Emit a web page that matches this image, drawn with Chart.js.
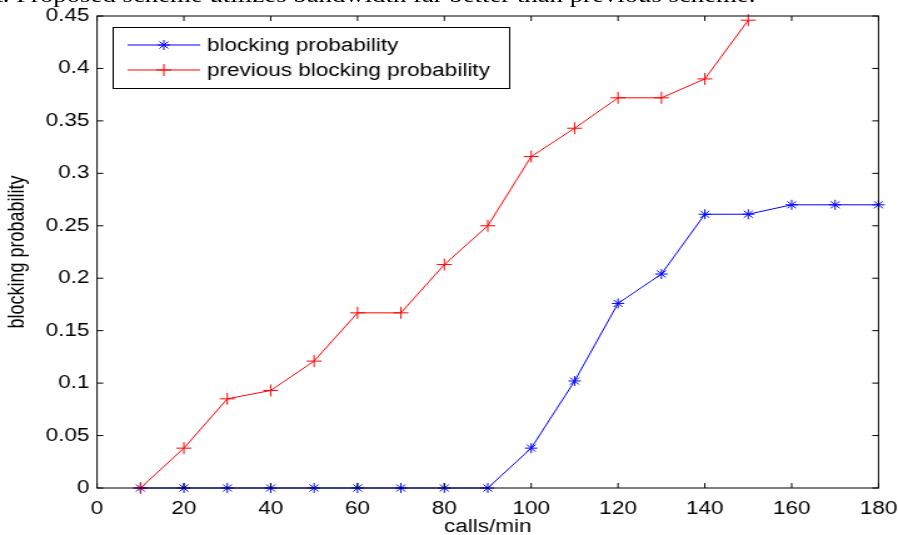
<!DOCTYPE html>
<html>
<head>
<meta charset="utf-8">
<script src="https://cdn.jsdelivr.net/npm/chart.js@4/dist/chart.umd.min.js"></script>
<style>
  html, body { margin: 0; padding: 0; background: #fff; overflow: hidden; }
  /* the source picture is stretched sideways, so the whole figure is drawn narrow and scaled */
  #wrap { position: relative; width: 718px; height: 535px; transform: scaleX(1.2507); transform-origin: 0 0; overflow: hidden; }
  #caption { position: absolute; right: 114px; top: -15px; white-space: nowrap; font: 21.4px "Liberation Serif", "Times New Roman", serif; line-height: 20px; color: #000; }
  canvas { position: absolute; left: 0; top: 0; }
</style>
</head>
<body>
<div id="wrap">
  <canvas id="chart" width="718" height="535"></canvas>
  <div id="caption">ent. Proposed scheme utilizes bandwidth far better than previous scheme.</div>
</div>
<script>
const callsPerMin = [10, 20, 30, 40, 50, 60, 70, 80, 90, 100, 110, 120, 130, 140, 150, 160, 170, 180];
const blocking = [0, 0, 0, 0, 0, 0, 0, 0, 0, 0.038, 0.102, 0.176, 0.204, 0.261, 0.261, 0.27, 0.27, 0.27];
const previousCalls = [10, 20, 30, 40, 50, 60, 70, 80, 90, 100, 110, 120, 130, 140, 150];
const previousBlocking = [0, 0.038, 0.085, 0.093, 0.121, 0.167, 0.167, 0.213, 0.25, 0.316, 0.343, 0.372, 0.372, 0.39, 0.446];
const seriesNames = ["blocking probability", "previous blocking probability"];
const xTicks = [0, 20, 40, 60, 80, 100, 120, 140, 160, 180];
const yTicks = [0, 0.05, 0.1, 0.15, 0.2, 0.25, 0.3, 0.35, 0.4, 0.45];

const font = "Liberation Sans, Arial, sans-serif";

function toPoints(xs, ys) {
  return xs.map((x, i) => ({ x: x, y: ys[i] }));
}

function mark(ctx, style, x, y, r) {
  ctx.beginPath();
  ctx.moveTo(x - r, y); ctx.lineTo(x + r, y);
  ctx.moveTo(x, y - r); ctx.lineTo(x, y + r);
  if (style === "star") {
    const d = r * 0.7;
    ctx.moveTo(x - d, y - d); ctx.lineTo(x + d, y + d);
    ctx.moveTo(x - d, y + d); ctx.lineTo(x + d, y - d);
  }
  ctx.stroke();
}

// matlab style box with inward ticks, and the legend inside the plot
const matlabBox = {
  id: "matlabBox",
  afterDatasetsDraw(chart) {
    const { ctx, chartArea: a, scales } = chart;
    ctx.save();
    ctx.strokeStyle = "#000";
    ctx.lineWidth = 1;
    ctx.strokeRect(a.left, a.top, a.right - a.left, a.bottom - a.top);
    ctx.beginPath();
    xTicks.forEach(v => {
      const px = scales.x.getPixelForValue(v);
      ctx.moveTo(px, a.bottom); ctx.lineTo(px, a.bottom - 5);
      ctx.moveTo(px, a.top); ctx.lineTo(px, a.top + 5);
    });
    yTicks.forEach(v => {
      const py = scales.y.getPixelForValue(v);
      ctx.moveTo(a.left, py); ctx.lineTo(a.left + 5, py);
      ctx.moveTo(a.right, py); ctx.lineTo(a.right - 5, py);
    });
    ctx.stroke();

    // legend
    const lx = 90.5, ly = 27.5, lw = 317, lh = 61;
    ctx.fillStyle = "#fff";
    ctx.fillRect(lx, ly, lw, lh);
    ctx.strokeRect(lx, ly, lw, lh);
    ctx.font = "18px " + font;
    ctx.textBaseline = "middle";
    chart.data.datasets.forEach((ds, i) => {
      const y = 45 + i * 25;
      ctx.strokeStyle = ds.borderColor;
      ctx.beginPath();
      ctx.moveTo(102, y); ctx.lineTo(160, y);
      ctx.stroke();
      mark(ctx, ds.pointStyle, 131, y, ds.pointRadius);
      ctx.fillStyle = "#000";
      ctx.fillText(seriesNames[i], 165.5, y + 1);
    });
    ctx.restore();
  }
};

function noPad(s) {
  s.paddingLeft = 0; s.paddingRight = 0; s.paddingTop = 0; s.paddingBottom = 0;
}

new Chart(document.getElementById("chart"), {
  type: "line",
  data: {
    datasets: [
      {
        label: seriesNames[0],
        data: toPoints(callsPerMin, blocking),
        borderColor: "#0000ff",
        backgroundColor: "#0000ff",
        borderWidth: 1,
        pointStyle: "star",
        pointRadius: 5,
        pointBorderWidth: 1,
        pointBorderColor: "#0000ff",
        clip: false,
        order: 1,
      },
      {
        label: seriesNames[1],
        data: toPoints(previousCalls, previousBlocking),
        borderColor: "#ff0000",
        backgroundColor: "#ff0000",
        borderWidth: 1,
        pointStyle: "cross",
        pointRadius: 6,
        pointBorderWidth: 1,
        pointBorderColor: "#ff0000",
        clip: false,
        order: 0,
      },
    ],
  },
  options: {
    responsive: false,
    animation: false,
    events: [],
    layout: { padding: { top: 16, right: 15.6, left: 0, bottom: 0 } },
    plugins: { legend: { display: false }, tooltip: { enabled: false } },
    scales: {
      x: {
        type: "linear",
        min: 0,
        max: 180,
        afterBuildTicks: s => { s.ticks = xTicks.map(v => ({ value: v })); },
        afterFit: s => { s.height = 47; noPad(s); },
        grid: { display: false, drawTicks: false },
        border: { display: false },
        ticks: { color: "#000", font: { family: font, size: 18 }, padding: 10, maxRotation: 0 },
        title: { display: true, text: "calls/min", color: "#000", font: { family: font, size: 18 }, padding: { top: 0, bottom: -3 } },
      },
      y: {
        min: 0,
        max: 0.45,
        afterBuildTicks: s => { s.ticks = yTicks.map(v => ({ value: v })); },
        afterFit: s => { s.width = 77.6; noPad(s); },
        grid: { display: false, drawTicks: false },
        border: { display: false },
        ticks: { color: "#000", font: { family: font, size: 18 }, padding: 6, callback: v => String(+v.toFixed(2)) },
        title: { display: true, text: "blocking probability", color: "#000", font: { family: font, size: 18 }, padding: { top: 3, bottom: 0 } },
      },
    },
  },
  plugins: [matlabBox],
});
</script>
</body>
</html>
